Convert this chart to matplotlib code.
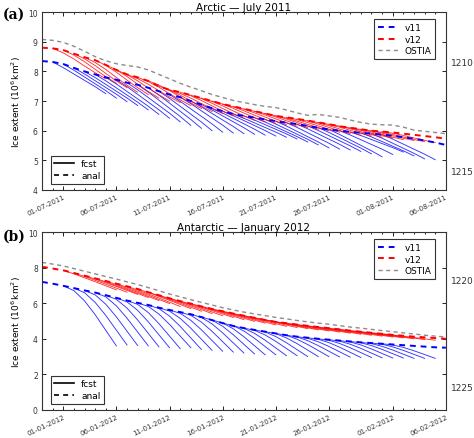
import numpy as np
import matplotlib
matplotlib.use('Agg')
import matplotlib.pyplot as plt
import matplotlib.dates as mdates
from matplotlib.lines import Line2D
import datetime as dt

# ---- Arctic, July 2011 (daily, 29-06-2011 .. 06-08-2011)
arc_start = dt.date(2011, 6, 29)
arc_v11 = [8.35, 8.32, 8.25, 8.12, 8.00, 7.90, 7.80, 7.72, 7.62, 7.55, 7.45, 7.33, 7.22,
           7.13, 7.00, 6.88, 6.76, 6.66, 6.56, 6.50, 6.44, 6.38, 6.32, 6.27, 6.22, 6.16,
           6.10, 6.04, 6.00, 5.96, 5.93, 5.90, 5.87, 5.83, 5.78, 5.73, 5.67, 5.60, 5.52]
arc_v12 = [8.80, 8.78, 8.72, 8.60, 8.48, 8.38, 8.22, 8.05, 7.90, 7.80, 7.68, 7.50, 7.38,
           7.30, 7.20, 7.10, 7.00, 6.90, 6.82, 6.74, 6.66, 6.58, 6.50, 6.45, 6.40, 6.34,
           6.28, 6.22, 6.15, 6.10, 6.05, 6.00, 5.97, 5.94, 5.90, 5.86, 5.82, 5.78, 5.73]
arc_ostia = [9.08, 9.05, 8.98, 8.85, 8.68, 8.50, 8.36, 8.26, 8.20, 8.15, 8.05, 7.90, 7.75,
             7.60, 7.47, 7.35, 7.22, 7.12, 7.02, 6.95, 6.88, 6.82, 6.78, 6.70, 6.60, 6.52,
             6.55, 6.50, 6.45, 6.36, 6.28, 6.22, 6.20, 6.19, 6.12, 6.02, 5.98, 5.94, 5.90]
# forecasts start 30-06 .. 31-07, value at the end of each 5-day run
arc_fc_first = 1
arc_fc_v11_end = [7.25, 7.10, 6.98, 6.85, 6.70, 6.55, 6.42, 6.30, 6.18, 6.08, 6.00, 5.95,
                  5.92, 5.90, 5.88, 5.85, 5.82, 5.78, 5.72, 5.62, 5.52, 5.42, 5.38, 5.35,
                  5.30, 5.22, 5.12, 5.20, 5.28, 5.15, 5.05, 5.02]
arc_fc_v12_end = [7.75, 7.60, 7.45, 7.30, 7.22, 7.10, 7.00, 6.95, 6.85, 6.75, 6.65, 6.58,
                  6.50, 6.42, 6.35, 6.30, 6.25, 6.20, 6.15, 6.10, 6.05, 6.00, 5.95, 5.90,
                  5.85, 5.82, 5.78, 5.75, 5.70, 5.67, 5.63, 5.60]

# ---- Antarctic, January 2012 (daily, 30-12-2011 .. 06-02-2012)
ant_start = dt.date(2011, 12, 30)
ant_v11 = [7.20, 7.10, 6.98, 6.85, 6.72, 6.60, 6.45, 6.30, 6.15, 6.02, 5.90, 5.75, 5.62,
           5.50, 5.38, 5.22, 5.05, 4.88, 4.72, 4.60, 4.50, 4.40, 4.30, 4.20, 4.12, 4.06,
           4.00, 3.95, 3.90, 3.85, 3.80, 3.76, 3.72, 3.68, 3.64, 3.60, 3.56, 3.52, 3.50]
ant_v12 = [8.05, 7.95, 7.85, 7.70, 7.55, 7.40, 7.25, 7.10, 6.95, 6.80, 6.62, 6.45, 6.28,
           6.12, 5.98, 5.82, 5.68, 5.55, 5.42, 5.30, 5.18, 5.06, 4.95, 4.88, 4.80, 4.73,
           4.66, 4.60, 4.53, 4.46, 4.40, 4.34, 4.28, 4.22, 4.17, 4.12, 4.08, 4.04, 4.00]
ant_ostia = [8.30, 8.20, 8.10, 7.95, 7.80, 7.65, 7.50, 7.36, 7.20, 7.05, 6.88, 6.70, 6.52,
             6.36, 6.20, 6.05, 5.90, 5.75, 5.62, 5.50, 5.40, 5.30, 5.20, 5.12, 5.03, 4.95,
             4.88, 4.82, 4.74, 4.66, 4.60, 4.53, 4.46, 4.40, 4.33, 4.27, 4.20, 4.15, 4.10]
# forecasts start 01-01 .. 31-01
ant_fc_first = 2
ant_fc_v11_end = [3.60, 3.65, 3.62, 3.60, 3.55, 3.50, 3.45, 3.50, 3.40, 3.35, 3.30, 3.25,
                  3.20, 3.15, 3.10, 3.10, 3.05, 3.05, 3.00, 3.00, 3.00, 2.98, 2.97, 2.95,
                  2.95, 2.93, 2.92, 2.92, 2.90, 2.90, 2.90]
ant_fc_v12_end = [6.75, 6.62, 6.50, 6.32, 6.15, 5.98, 5.82, 5.70, 5.55, 5.42, 5.30, 5.20,
                  5.08, 4.98, 4.88, 4.78, 4.70, 4.63, 4.57, 4.50, 4.44, 4.38, 4.32, 4.26,
                  4.20, 4.15, 4.10, 4.05, 4.00, 3.96, 3.92]

# fraction of the total drift reached at each forecast lead day (0..5)
arc_shape_v11 = [0, 0.18, 0.38, 0.58, 0.78, 1.0]
arc_shape_v12 = [0, 0.15, 0.35, 0.58, 0.80, 1.0]
ant_shape_v11 = [0, 0.08, 0.25, 0.48, 0.74, 1.0]
ant_shape_v12 = [0, 0.18, 0.38, 0.58, 0.79, 1.0]

arc_ticks = ['01-07-2011', '06-07-2011', '11-07-2011', '16-07-2011', '21-07-2011',
             '26-07-2011', '01-08-2011', '06-08-2011']
ant_ticks = ['01-01-2012', '06-01-2012', '11-01-2012', '16-01-2012', '21-01-2012',
             '26-01-2012', '01-02-2012', '06-02-2012']

BLUE = '#0000ff'
RED = '#ff0000'
GRAY = '#8c8c8c'


def draw_panel(ax, start, v11, v12, ostia, fc_first, v11_end, v12_end,
               shape11, shape12, ticks, ylim, yticks, title):
    dates = [start + dt.timedelta(days=i) for i in range(len(v11))]
    nlead = len(shape11)
    # forecasts
    for k in range(len(v11_end)):
        i0 = fc_first + k
        fd = dates[i0:i0 + nlead]
        s = v11[i0]
        ax.plot(fd, [s + (v11_end[k] - s) * f for f in shape11], color=BLUE, lw=0.65, alpha=0.8)
    for k in range(len(v12_end)):
        i0 = fc_first + k
        fd = dates[i0:i0 + nlead]
        s = v12[i0]
        ax.plot(fd, [s + (v12_end[k] - s) * f for f in shape12], color=RED, lw=0.65, alpha=0.8)
    # analyses
    ax.plot(dates, ostia, color=GRAY, lw=1.0, dashes=(3, 2.5))
    ax.plot(dates, v12, color=RED, lw=1.4, dashes=(3, 2.5))
    ax.plot(dates, v11, color=BLUE, lw=1.4, dashes=(3, 2.5))

    ax.set_xlim(dates[0], dates[-1])
    ax.set_ylim(*ylim)
    ax.set_yticks(yticks)
    ax.set_xticks([dt.datetime.strptime(t, '%d-%m-%Y') for t in ticks])
    ax.set_xticklabels(ticks, rotation=25, ha='right', rotation_mode='anchor')
    ax.xaxis.set_minor_locator(mdates.DayLocator())
    ax.tick_params(which='both', direction='in', top=True, right=True,
                   labelcolor='#333333', width=0.6)
    ax.tick_params(axis='x', labelsize=5.0, pad=2.5)
    ax.tick_params(axis='y', labelsize=5.5, pad=3)
    ax.tick_params(which='major', length=3)
    ax.tick_params(which='minor', length=1.5)
    for sp in ax.spines.values():
        sp.set_linewidth(0.8)
        sp.set_color('#333333')
    ax.set_title(title, fontsize=7.5, pad=1.5)
    ax.set_ylabel(r'Ice extent ($10^6\,\mathrm{km}^2$)', fontsize=6.5, labelpad=4)

    h1 = [Line2D([], [], color=BLUE, lw=1.4, dashes=(3, 2.5)),
          Line2D([], [], color=RED, lw=1.4, dashes=(3, 2.5)),
          Line2D([], [], color=GRAY, lw=1.0, dashes=(3, 2.5))]
    leg1 = ax.legend(h1, ['v11', 'v12', 'OSTIA'], loc='upper right', fontsize=6.5,
                     fancybox=False, edgecolor='#333333', framealpha=1,
                     handlelength=2.2, borderpad=0.4, labelspacing=0.3,
                     bbox_to_anchor=(0.985, 0.985))
    leg1.get_frame().set_linewidth(0.8)
    ax.add_artist(leg1)
    h2 = [Line2D([], [], color='black', lw=1.2),
          Line2D([], [], color='black', lw=1.2, dashes=(3, 2.5))]
    leg2 = ax.legend(h2, ['fcst', 'anal'], loc='lower left', fontsize=6.5,
                     fancybox=False, edgecolor='#333333', framealpha=1,
                     handlelength=2.2, borderpad=0.4, labelspacing=0.3,
                     bbox_to_anchor=(0.01, 0.01))
    leg2.get_frame().set_linewidth(0.8)


fig = plt.figure(figsize=(4.74, 4.39), dpi=100)
ax1 = fig.add_axes([0.0886, 0.565, 0.852, 0.405])
ax2 = fig.add_axes([0.0886, 0.064, 0.852, 0.405])

draw_panel(ax1, arc_start, arc_v11, arc_v12, arc_ostia, arc_fc_first,
           arc_fc_v11_end, arc_fc_v12_end, arc_shape_v11, arc_shape_v12,
           arc_ticks, (4, 10), range(4, 11), 'Arctic \u2014 July 2011')
draw_panel(ax2, ant_start, ant_v11, ant_v12, ant_ostia, ant_fc_first,
           ant_fc_v11_end, ant_fc_v12_end, ant_shape_v11, ant_shape_v12,
           ant_ticks, (0, 10), range(0, 11, 2), 'Antarctic \u2014 January 2012')

fig.text(0.006, 0.958, '(a)', fontsize=10, fontweight='bold', family='serif')
fig.text(0.006, 0.452, '(b)', fontsize=10, fontweight='bold', family='serif')

# page line numbers on the right margin
for num, ypix in [('1210', 63), ('1215', 173), ('1220', 281), ('1225', 389)]:
    fig.text(0.952, 1 - ypix / 439, num, fontsize=6.5, color='#333333', va='center')

fig.savefig('out.png', dpi=100)
